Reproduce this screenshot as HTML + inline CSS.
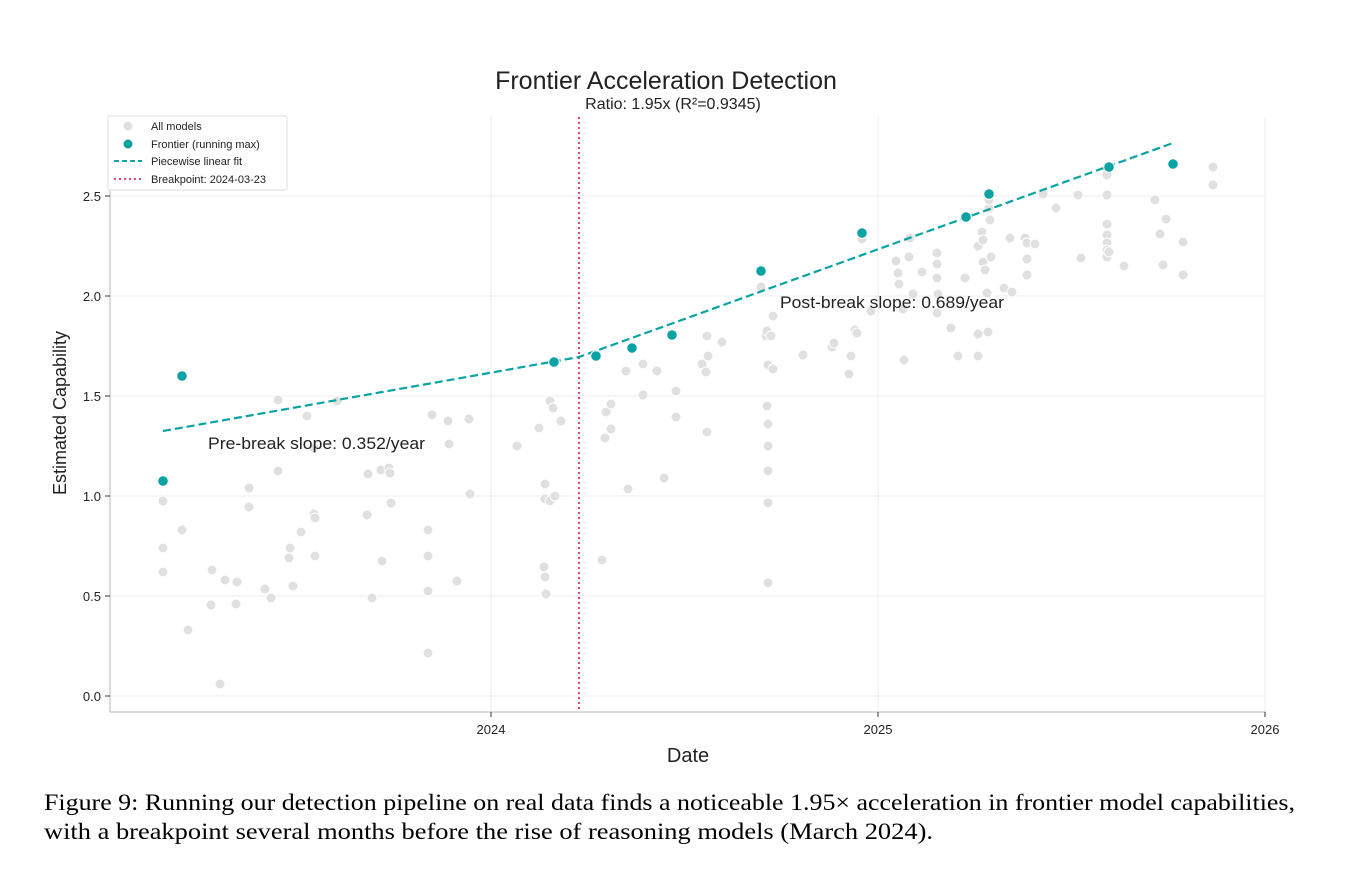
<!DOCTYPE html>
<html><head><meta charset="utf-8"><style>
body{margin:0;background:#fff;}
svg{display:block;}
.s{font-family:"Liberation Sans",Arial,sans-serif;fill:#222;}
.cap{font-family:"Liberation Serif","Times New Roman",serif;fill:#000;font-size:23px;}
</style></head><body>
<svg width="1366" height="872" xmlns="http://www.w3.org/2000/svg">
<rect width="1366" height="872" fill="#fff"/>
<g stroke="#ececec" stroke-width="1">
<line x1="110" x2="1265" y1="696" y2="696"/><line x1="110" x2="1265" y1="596" y2="596"/>
<line x1="110" x2="1265" y1="496" y2="496"/><line x1="110" x2="1265" y1="396" y2="396"/>
<line x1="110" x2="1265" y1="296" y2="296"/><line x1="110" x2="1265" y1="196" y2="196"/>
<line x1="491" x2="491" y1="117" y2="712"/><line x1="878" x2="878" y1="117" y2="712"/><line x1="1265" x2="1265" y1="117" y2="712"/>
</g>
<g stroke="#cfcfcf" stroke-width="1.5">
<line x1="110" x2="110" y1="117" y2="712"/><line x1="110" x2="1266" y1="712" y2="712"/>
</g>
<g stroke="#333" stroke-width="1">
<line x1="105" x2="110" y1="696" y2="696"/><line x1="105" x2="110" y1="596" y2="596"/><line x1="105" x2="110" y1="496" y2="496"/><line x1="105" x2="110" y1="396" y2="396"/><line x1="105" x2="110" y1="296" y2="296"/><line x1="105" x2="110" y1="196" y2="196"/>
<line x1="491" x2="491" y1="712" y2="717"/><line x1="878" x2="878" y1="712" y2="717"/><line x1="1265" x2="1265" y1="712" y2="717"/>
</g>
<g class="s" font-size="13" text-anchor="end">
<text x="101" y="701">0.0</text><text x="101" y="601">0.5</text><text x="101" y="501">1.0</text><text x="101" y="401">1.5</text><text x="101" y="301">2.0</text><text x="101" y="201">2.5</text>
</g>
<g class="s" font-size="13" text-anchor="middle">
<text x="491" y="734">2024</text><text x="878" y="734">2025</text><text x="1265" y="734">2026</text>
</g>
<text class="s" x="688" y="762" font-size="20" text-anchor="middle">Date</text>
<text class="s" transform="translate(66,413) rotate(-90)" font-size="18" text-anchor="middle">Estimated Capability</text>
<text class="s" x="666" y="89" font-size="25" text-anchor="middle">Frontier Acceleration Detection</text>
<text class="s" x="673" y="109" font-size="16" text-anchor="middle">Ratio: 1.95x (R²=0.9345)</text>
<g fill="#e0e0e0" stroke="#fff" stroke-width="1">
<circle cx="163" cy="501" r="5"/><circle cx="163" cy="548" r="5"/><circle cx="163" cy="572" r="5"/><circle cx="182" cy="530" r="5"/><circle cx="188" cy="630" r="5"/><circle cx="212" cy="570" r="5"/><circle cx="211" cy="605" r="5"/><circle cx="220" cy="684" r="5"/><circle cx="225" cy="580" r="5"/><circle cx="236" cy="604" r="5"/><circle cx="237" cy="582" r="5"/><circle cx="249" cy="507" r="5"/><circle cx="249" cy="488" r="5"/><circle cx="265" cy="589" r="5"/><circle cx="271" cy="598" r="5"/><circle cx="278" cy="471" r="5"/><circle cx="278" cy="400" r="5"/><circle cx="289" cy="558" r="5"/><circle cx="290" cy="548" r="5"/><circle cx="293" cy="586" r="5"/><circle cx="301" cy="532" r="5"/><circle cx="307" cy="416" r="5"/><circle cx="314" cy="448" r="5"/><circle cx="314" cy="514" r="5"/><circle cx="315" cy="518" r="5"/><circle cx="315" cy="556" r="5"/><circle cx="337" cy="401" r="5"/><circle cx="368" cy="474" r="5"/><circle cx="367" cy="515" r="5"/><circle cx="372" cy="598" r="5"/><circle cx="381" cy="470" r="5"/><circle cx="382" cy="561" r="5"/><circle cx="389" cy="468" r="5"/><circle cx="390" cy="473" r="5"/><circle cx="391" cy="503" r="5"/><circle cx="428" cy="530" r="5"/><circle cx="428" cy="556" r="5"/><circle cx="428" cy="591" r="5"/><circle cx="428" cy="653" r="5"/><circle cx="432" cy="415" r="5"/><circle cx="448" cy="421" r="5"/><circle cx="449" cy="444" r="5"/><circle cx="457" cy="581" r="5"/><circle cx="469" cy="419" r="5"/><circle cx="470" cy="494" r="5"/><circle cx="517" cy="446" r="5"/><circle cx="539" cy="428" r="5"/><circle cx="544" cy="567" r="5"/><circle cx="545" cy="484" r="5"/><circle cx="545" cy="499" r="5"/><circle cx="545" cy="577" r="5"/><circle cx="546" cy="594" r="5"/><circle cx="550" cy="401" r="5"/><circle cx="550" cy="501" r="5"/><circle cx="553" cy="408" r="5"/><circle cx="555" cy="496" r="5"/><circle cx="561" cy="421" r="5"/><circle cx="602" cy="560" r="5"/><circle cx="605" cy="438" r="5"/><circle cx="606" cy="412" r="5"/><circle cx="611" cy="429" r="5"/><circle cx="611" cy="404" r="5"/><circle cx="626" cy="371" r="5"/><circle cx="628" cy="489" r="5"/><circle cx="643" cy="364" r="5"/><circle cx="643" cy="395" r="5"/><circle cx="657" cy="371" r="5"/><circle cx="664" cy="478" r="5"/><circle cx="676" cy="417" r="5"/><circle cx="676" cy="391" r="5"/><circle cx="702" cy="364" r="5"/><circle cx="706" cy="372" r="5"/><circle cx="707" cy="432" r="5"/><circle cx="707" cy="336" r="5"/><circle cx="708" cy="356" r="5"/><circle cx="722" cy="342" r="5"/><circle cx="761" cy="287" r="5"/><circle cx="766" cy="336" r="5"/><circle cx="767" cy="331" r="5"/><circle cx="767" cy="406" r="5"/><circle cx="768" cy="365" r="5"/><circle cx="768" cy="424" r="5"/><circle cx="768" cy="446" r="5"/><circle cx="768" cy="471" r="5"/><circle cx="768" cy="503" r="5"/><circle cx="768" cy="583" r="5"/><circle cx="771" cy="336" r="5"/><circle cx="773" cy="316" r="5"/><circle cx="773" cy="369" r="5"/><circle cx="803" cy="355" r="5"/><circle cx="832" cy="347" r="5"/><circle cx="834" cy="343" r="5"/><circle cx="849" cy="374" r="5"/><circle cx="851" cy="356" r="5"/><circle cx="855" cy="330" r="5"/><circle cx="857" cy="333" r="5"/><circle cx="862" cy="239" r="5"/><circle cx="871" cy="311" r="5"/><circle cx="896" cy="261" r="5"/><circle cx="898" cy="273" r="5"/><circle cx="899" cy="284" r="5"/><circle cx="903" cy="309" r="5"/><circle cx="904" cy="360" r="5"/><circle cx="909" cy="257" r="5"/><circle cx="910" cy="238" r="5"/><circle cx="913" cy="294" r="5"/><circle cx="922" cy="272" r="5"/><circle cx="937" cy="253" r="5"/><circle cx="937" cy="264" r="5"/><circle cx="937" cy="278" r="5"/><circle cx="937" cy="313" r="5"/><circle cx="938" cy="294" r="5"/><circle cx="951" cy="328" r="5"/><circle cx="958" cy="356" r="5"/><circle cx="965" cy="278" r="5"/><circle cx="978" cy="246" r="5"/><circle cx="978" cy="334" r="5"/><circle cx="978" cy="356" r="5"/><circle cx="982" cy="232" r="5"/><circle cx="983" cy="240" r="5"/><circle cx="983" cy="262" r="5"/><circle cx="985" cy="270" r="5"/><circle cx="987" cy="293" r="5"/><circle cx="988" cy="332" r="5"/><circle cx="989" cy="208" r="5"/><circle cx="989" cy="200" r="5"/><circle cx="990" cy="220" r="5"/><circle cx="991" cy="257" r="5"/><circle cx="1004" cy="288" r="5"/><circle cx="1010" cy="238" r="5"/><circle cx="1012" cy="292" r="5"/><circle cx="1025" cy="238" r="5"/><circle cx="1027" cy="243" r="5"/><circle cx="1027" cy="259" r="5"/><circle cx="1027" cy="275" r="5"/><circle cx="1035" cy="244" r="5"/><circle cx="1043" cy="194" r="5"/><circle cx="1056" cy="208" r="5"/><circle cx="1078" cy="195" r="5"/><circle cx="1081" cy="258" r="5"/><circle cx="1107" cy="175" r="5"/><circle cx="1107" cy="195" r="5"/><circle cx="1107" cy="224" r="5"/><circle cx="1107" cy="235" r="5"/><circle cx="1107" cy="243" r="5"/><circle cx="1107" cy="250" r="5"/><circle cx="1107" cy="257" r="5"/><circle cx="1109" cy="252" r="5"/><circle cx="1124" cy="266" r="5"/><circle cx="1155" cy="200" r="5"/><circle cx="1160" cy="234" r="5"/><circle cx="1163" cy="265" r="5"/><circle cx="1166" cy="219" r="5"/><circle cx="1183" cy="275" r="5"/><circle cx="1183" cy="242" r="5"/><circle cx="1213" cy="167" r="5"/><circle cx="1213" cy="185" r="5"/>
</g>
<line x1="579" x2="579" y1="117" y2="712" stroke="#e8407a" stroke-width="2" stroke-dasharray="2,3"/>
<polyline points="163,431 579,357 1173,143" fill="none" stroke="#0aa3a3" stroke-width="2.2" stroke-dasharray="8,4"/>
<g fill="#0aa3a3" stroke="#fff" stroke-width="1">
<circle cx="163" cy="481" r="5.3"/><circle cx="182" cy="376" r="5.3"/><circle cx="554" cy="362" r="5.3"/><circle cx="596" cy="356" r="5.3"/><circle cx="632" cy="348" r="5.3"/><circle cx="672" cy="335" r="5.3"/><circle cx="761" cy="271" r="5.3"/><circle cx="862" cy="233" r="5.3"/><circle cx="966" cy="217" r="5.3"/><circle cx="989" cy="194" r="5.3"/><circle cx="1109" cy="167" r="5.3"/><circle cx="1173" cy="164" r="5.3"/>
</g>
<text class="s" x="208" y="449" font-size="17" textLength="217" lengthAdjust="spacingAndGlyphs">Pre-break slope: 0.352/year</text>
<text class="s" x="780" y="308" font-size="17" textLength="224" lengthAdjust="spacingAndGlyphs">Post-break slope: 0.689/year</text>
<rect x="108" y="116" width="179" height="74" fill="#fff" stroke="#ddd" rx="2"/>
<circle cx="128" cy="126" r="4.5" fill="#e0e0e0"/>
<circle cx="128" cy="144" r="4.5" fill="#0aa3a3"/>
<line x1="114" x2="142" y1="161" y2="161" stroke="#0aa3a3" stroke-width="2" stroke-dasharray="5,3"/>
<line x1="114" x2="142" y1="179" y2="179" stroke="#e8407a" stroke-width="2" stroke-dasharray="2,3"/>
<g class="s" font-size="11">
<text x="151" y="130">All models</text><text x="151" y="148">Frontier (running max)</text><text x="151" y="165">Piecewise linear fit</text><text x="151" y="183">Breakpoint: 2024-03-23</text>
</g>
<text class="cap" x="44" y="810" textLength="1251" lengthAdjust="spacingAndGlyphs">Figure 9: Running our detection pipeline on real data finds a noticeable 1.95× acceleration in frontier model capabilities,</text>
<text class="cap" x="44" y="839" textLength="889" lengthAdjust="spacingAndGlyphs">with a breakpoint several months before the rise of reasoning models (March 2024).</text>
</svg>
</body></html>
